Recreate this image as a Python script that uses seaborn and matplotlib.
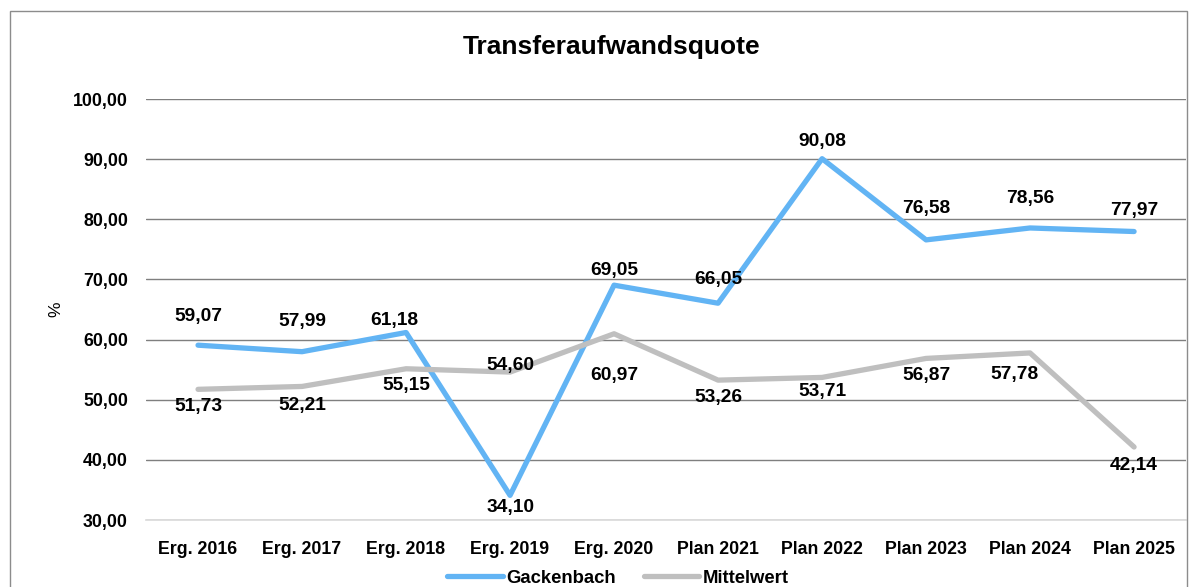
import pandas as pd
import matplotlib.pyplot as plt
import seaborn as sns
from matplotlib.patches import Rectangle
from matplotlib.ticker import FuncFormatter

# data
jahre = ['Erg. 2016', 'Erg. 2017', 'Erg. 2018', 'Erg. 2019', 'Erg. 2020',
         'Plan 2021', 'Plan 2022', 'Plan 2023', 'Plan 2024', 'Plan 2025']
gackenbach = [59.07, 57.99, 61.18, 34.10, 69.05, 66.05, 90.08, 76.58, 78.56, 77.97]
mittelwert = [51.73, 52.21, 55.15, 54.60, 60.97, 53.26, 53.71, 56.87, 57.78, 42.14]

# label offsets (pixels) relative to the data point
off_gack = [(0, 29), (0, 30), (-12, 12), (0, -12), (0, 15), (0, 24), (0, 17), (0, 31), (0, 29), (0, 21)]
off_mitt = [(0, -17), (0, -19), (0, -17), (0, 7), (0, -42), (0, -17), (0, -14), (0, -17), (-16, -22), (0, -18)]

df = pd.DataFrame({
    'Jahr': jahre * 2,
    'Wert': gackenbach + mittelwert,
    'Reihe': ['Gackenbach'] * len(jahre) + ['Mittelwert'] * len(jahre),
})

sns.set_style('white')
plt.rcParams['font.family'] = ['Liberation Sans', 'DejaVu Sans']
plt.rcParams['text.color'] = 'black'
plt.rcParams['axes.labelcolor'] = 'black'
plt.rcParams['xtick.color'] = 'black'
plt.rcParams['ytick.color'] = 'black'

farben = {'Gackenbach': '#62B4F4', 'Mittelwert': '#BFBFBF'}

fig = plt.figure(figsize=(12, 5.87), dpi=100)
ax = fig.add_axes([0.1217, 0.1141, 0.8667, 0.7172])

sns.lineplot(data=df, x='Jahr', y='Wert', hue='Reihe', palette=farben, sort=False,
             linewidth=3.8, solid_capstyle='round', solid_joinstyle='round',
             legend=False, ax=ax, zorder=3)

ax.set_xlim(-0.5, len(jahre) - 0.5)
ax.set_ylim(30, 100)
ax.set_yticks(range(30, 101, 10))
ax.yaxis.set_major_formatter(FuncFormatter(lambda v, p: f"{v:.2f}".replace('.', ',')))
ax.grid(axis='y', color='#7f7f7f', linewidth=1)
ax.set_axisbelow(True)
for s in ['top', 'right', 'left']:
    ax.spines[s].set_visible(False)
ax.spines['bottom'].set_color('#d9d9d9')
ax.spines['bottom'].set_linewidth(1.2)
ax.tick_params(axis='both', length=0, labelsize=12.8)
ax.tick_params(axis='y', pad=13)
ax.tick_params(axis='x', pad=15)
for lbl in ax.get_xticklabels() + ax.get_yticklabels():
    lbl.set_fontweight('bold')
ax.set_xlabel('')
ax.set_ylabel('%', fontsize=12.5, labelpad=7)

for i, (g, m) in enumerate(zip(gackenbach, mittelwert)):
    ax.annotate(f"{g:.2f}".replace('.', ','), (i, g), xytext=off_gack[i], textcoords='offset pixels',
                ha='center', va='center', fontsize=13.8, fontweight='bold', annotation_clip=False)
    ax.annotate(f"{m:.2f}".replace('.', ','), (i, m), xytext=off_mitt[i], textcoords='offset pixels',
                ha='center', va='center', fontsize=13.8, fontweight='bold', annotation_clip=False)

fig.text(0.51, 0.92, 'Transferaufwandsquote', ha='center', va='center', fontsize=19, fontweight='bold')

handles = [plt.Line2D([], [], color=farben[k], linewidth=3.8, solid_capstyle='round') for k in farben]
fig.legend(handles, list(farben), loc='center', bbox_to_anchor=(0.515, 0.015), ncol=2,
           frameon=False, handlelength=3.0, handletextpad=0.2, columnspacing=1.5,
           prop={'size': 13.3, 'weight': 'bold'})

fig.patches.append(Rectangle((0.0083, -0.05), 0.9809, 1.031, transform=fig.transFigure,
                             fill=False, edgecolor='#8c8c8c', linewidth=1))

plt.savefig('out.png', dpi=100)
